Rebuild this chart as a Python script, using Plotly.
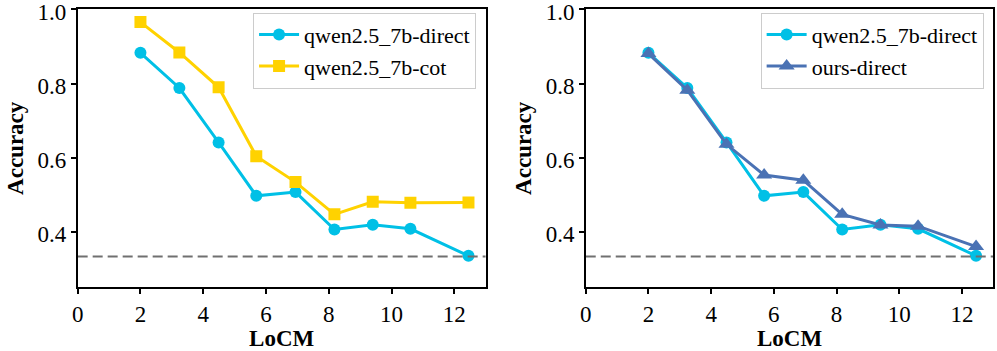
import plotly.graph_objects as go

# LoCM buckets (x) and accuracy per model
locm = [2.0, 3.24, 4.49, 5.69, 6.94, 8.18, 9.40, 10.60, 12.45]
qwen_direct = [0.883, 0.788, 0.641, 0.497, 0.507, 0.406, 0.419, 0.408, 0.335]
qwen_cot = [0.966, 0.884, 0.790, 0.604, 0.534, 0.447, 0.481, 0.478, 0.479]
ours_direct = [0.881, 0.782, 0.636, 0.553, 0.539, 0.447, 0.418, 0.415, 0.360]
chance = 1 / 3

x_ticks = [0, 2, 4, 6, 8, 10, 12]
y_ticks = [0.4, 0.6, 0.8, 1.0]

CYAN = '#00C0E6'
GOLD = '#FFD200'
BLUE = '#4A72B4'
FONT = 'Liberation Serif'

fig = go.Figure()

marker_size = {'circle': 12, 'square': 12, 'triangle-up': 14}


def add_series(y, name, color, symbol, xa, ya, legend):
    fig.add_trace(go.Scatter(
        x=locm, y=y, name=name, mode='lines+markers',
        line=dict(color=color, width=3),
        marker=dict(color=color, symbol=symbol, size=marker_size[symbol], line=dict(width=0)),
        xaxis=xa, yaxis=ya, legend=legend,
    ))


add_series(qwen_direct, 'qwen2.5_7b-direct', CYAN, 'circle', 'x', 'y', 'legend')
add_series(qwen_cot, 'qwen2.5_7b-cot', GOLD, 'square', 'x', 'y', 'legend')
add_series(qwen_direct, 'qwen2.5_7b-direct', CYAN, 'circle', 'x2', 'y2', 'legend2')
add_series(ours_direct, 'ours-direct', BLUE, 'triangle-up', 'x2', 'y2', 'legend2')

# random-guess baseline
for xa, ya in [('x', 'y'), ('x2', 'y2')]:
    fig.add_trace(go.Scatter(
        x=[0, 13], y=[chance, chance], mode='lines', showlegend=False,
        line=dict(color='#707070', width=2, dash='10px,5px'),
        xaxis=xa, yaxis=ya, hoverinfo='skip',
    ))

axis_common = dict(
    showline=True, linecolor='black', linewidth=1.5, mirror=True,
    ticks='outside', ticklen=5, tickwidth=1.5, tickcolor='black',
    showgrid=False, zeroline=False,
    tickfont=dict(family=FONT, size=23, color='black'),
    ticklabeloverflow='allow',
    automargin=False,
)
x_title = dict(text='<b>LoCM</b>', font=dict(family=FONT, size=23), standoff=4)
y_title = dict(text='<b>Accuracy</b>', font=dict(family=FONT, size=23), standoff=8)

legend_common = dict(
    xanchor='right', yanchor='top', bgcolor='rgba(255,255,255,0.8)',
    bordercolor='#CCCCCC', borderwidth=1,
    font=dict(family=FONT, size=22), itemwidth=40, tracegroupgap=0,
)

fig.update_layout(
    width=997, height=351,
    margin=dict(l=0, r=0, t=0, b=0),
    plot_bgcolor='white', paper_bgcolor='white',
    font=dict(family=FONT, color='black'),
    xaxis=dict(domain=[0.0779, 0.4872], range=[0, 13], tickvals=x_ticks, anchor='y',
               title=x_title, **axis_common),
    yaxis=dict(domain=[0.1815, 0.9735], range=[0.25, 1.0005], tickvals=y_ticks, tickformat='.1f',
               anchor='x', title=y_title, ticklabelshift=2, **axis_common),
    xaxis2=dict(domain=[0.5875, 0.9963], range=[0, 13], tickvals=x_ticks, anchor='y2',
                title=x_title, **axis_common),
    yaxis2=dict(domain=[0.1815, 0.9735], range=[0.25, 1.0005], tickvals=y_ticks, tickformat='.1f',
                anchor='x2', title=y_title, ticklabelshift=2, **axis_common),
    legend=dict(x=0.4775, y=0.964, **legend_common),
    legend2=dict(x=0.9866, y=0.964, **legend_common),
)

fig.write_html("out.html", config={'displayModeBar': False},
               post_script="document.body.style.margin='0';")
